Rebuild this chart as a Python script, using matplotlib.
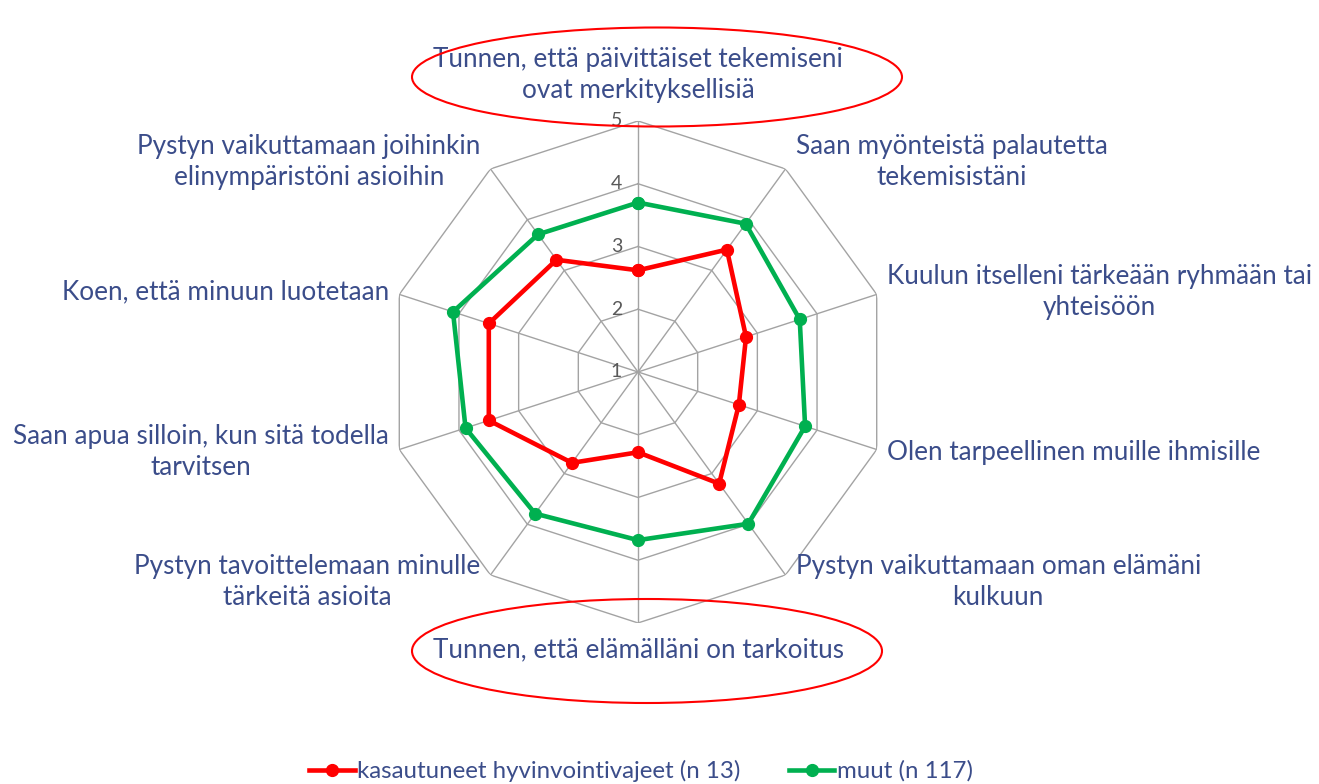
import numpy as np
import matplotlib
matplotlib.use('Agg')
import matplotlib.pyplot as plt
from matplotlib.patches import Ellipse

# categories, clockwise from the top
categories = [
    'Tunnen, että päivittäiset tekemiseni\novat merkityksellisiä',
    'Saan myönteistä palautetta\ntekemisistäni',
    'Kuulun itselleni tärkeään ryhmään tai\nyhteisöön',
    'Olen tarpeellinen muille ihmisille',
    'Pystyn vaikuttamaan oman elämäni\nkulkuun',
    'Tunnen, että elämälläni on tarkoitus',
    'Pystyn tavoittelemaan minulle\ntärkeitä asioita',
    'Saan apua silloin, kun sitä todella\ntarvitsen',
    'Koen, että minuun luotetaan',
    'Pystyn vaikuttamaan joihinkin\nelinympäristöni asioihin',
]
vajeet = [2.62, 3.41, 2.81, 2.69, 3.20, 2.28, 2.79, 3.50, 3.50, 3.21]
muut = [3.70, 3.92, 3.71, 3.80, 3.99, 3.68, 3.79, 3.89, 4.10, 3.71]
series_names = ['kasautuneet hyvinvointivajeet (n 13)', 'muut (n 117)']
ring_levels = [1, 2, 3, 4, 5]

TEXT = '#3B4D8A'
GRID = '#A3A3A3'
PX = 0.72  # points per pixel at dpi 100

plt.rcParams['font.family'] = ['Lato', 'DejaVu Sans']

fig = plt.figure(figsize=(13.19, 7.84), dpi=100)
ax = fig.add_axes([0.2934, 0.2054, 0.3806, 0.6403], projection='polar')
ax.set_theta_offset(np.pi / 2)
ax.set_theta_direction(-1)
ax.set_ylim(ring_levels[0], ring_levels[-1])
ax.grid(False)
ax.spines['polar'].set_visible(False)
ax.set_xticks([])
ax.set_yticks([])
ax.patch.set_visible(False)

n = len(categories)
angles = np.linspace(0, 2 * np.pi, n, endpoint=False)
closed = np.append(angles, angles[0])

# polygon grid
for lvl in ring_levels[1:]:
    ax.plot(closed, [lvl] * (n + 1), color=GRID, lw=1.0, zorder=1)
for a in angles:
    ax.plot([a, a], [ring_levels[0], ring_levels[-1]], color=GRID, lw=1.0, zorder=1)

for lvl in ring_levels:
    ax.annotate(str(lvl), xy=(0, lvl), xytext=(-16 * PX, 0), textcoords='offset points',
                ha='right', va='center', fontsize=14, color='#595959')

for vals, col, name in [(vajeet, '#FF0000', series_names[0]), (muut, '#00B050', series_names[1])]:
    ax.plot(closed, vals + vals[:1], color=col, lw=3.3, marker='o', ms=8.5,
            label=name, zorder=3, clip_on=False)

# category labels
for a, lab in zip(angles, categories):
    s, c = np.sin(a), np.cos(a)
    if abs(s) < 0.01:
        dx, dy, ha = 0, (46 if c > 0 else -27), 'center'
    else:
        dx, dy, ha = 10 * np.sign(s), 8 * c, ('left' if s > 0 else 'right')
    ax.annotate(lab, xy=(a, ring_levels[-1]), xytext=(dx * PX, dy * PX),
                textcoords='offset points', ha=ha, va='center',
                multialignment='center', fontsize=18.8, color=TEXT,
                linespacing=1.3)

# red ellipses round the two highlighted statements
fig.add_artist(Ellipse((657 / 1319, 1 - 77 / 784), 490 / 1319, 99 / 784,
                       transform=fig.transFigure, fill=False, ec='#FF0000', lw=1.5))
fig.add_artist(Ellipse((647 / 1319, 1 - 651 / 784), 470 / 1319, 104 / 784,
                       transform=fig.transFigure, fill=False, ec='#FF0000', lw=1.5))

leg = fig.legend(loc='center', bbox_to_anchor=(641 / 1319, 13 / 784), ncol=2,
                 frameon=False, fontsize=17.3, handlelength=1.9, handletextpad=0.1,
                 columnspacing=2.0, numpoints=1)
for txt in leg.get_texts():
    txt.set_color(TEXT)

fig.savefig('out.png', dpi=100)
